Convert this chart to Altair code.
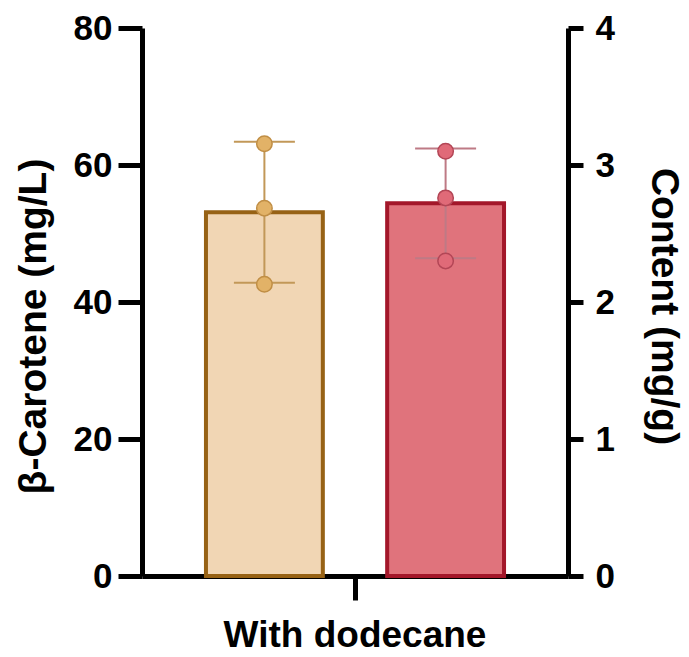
import altair as alt
import pandas as pd

category = "With dodecane"
groups = ["β-Carotene", "Content"]

carotene_points = [63.1, 53.7, 42.6]
carotene_mean = 53.1
carotene_sd = 10.3

content_points = [3.10, 2.76, 2.30]
content_mean = 2.72
content_sd = 0.40

left_ticks = [0, 20, 40, 60, 80]
right_ticks = [0, 1, 2, 3, 4]

FONT = "Liberation Sans"

x_enc = alt.X(
    "cat:N",
    scale=alt.Scale(paddingInner=0, paddingOuter=0),
    axis=alt.Axis(
        title=None, labelFontSize=37, labelFont=FONT, labelFontWeight="bold",
        labelAngle=0, labelBaseline="alphabetic", labelPadding=46, labelLimit=0,
        tickSize=24, tickWidth=5, domainWidth=5,
    ),
)
xoff = alt.XOffset("group:N", scale=alt.Scale(domain=groups, paddingInner=0.355, paddingOuter=0.353))

left_axis = alt.Axis(
    orient="left", values=left_ticks, grid=False, title="β-Carotene (mg/L)",
    titleFontSize=39, titleFont=FONT, titleFontWeight="bold",
    titleX=-97, titleY=298, titleBaseline="alphabetic", titleAngle=-90,
    labelFontSize=35, labelFont=FONT, labelFontWeight="bold", labelPadding=6,
    tickSize=24, tickWidth=5, domainWidth=5,
)
right_axis = alt.Axis(
    orient="right", values=right_ticks, grid=False, title="Content (mg/g)",
    titleFontSize=39, titleFont=FONT, titleFontWeight="bold",
    titleX=83, titleY=278, titleBaseline="alphabetic", titleAngle=90,
    labelFontSize=35, labelFont=FONT, labelFontWeight="bold", labelPadding=12,
    tickSize=15, tickWidth=5, domainWidth=5,
)
left_scale = alt.Scale(domain=[0, 80], nice=False)
right_scale = alt.Scale(domain=[0, 4], nice=False)


def side(points, mean, sd, group, scale, axis, bar_fill, bar_stroke, err_color, pt_fill, pt_stroke):
    summary = pd.DataFrame({"cat": [category], "group": [group], "mean": [mean],
                            "lo": [mean - sd], "hi": [mean + sd]})
    caps = pd.DataFrame({"cat": category, "group": group, "v": [mean - sd, mean + sd]})
    pts = pd.DataFrame({"cat": category, "group": group, "v": points})
    bar = alt.Chart(summary).mark_bar(fill=bar_fill, stroke=bar_stroke, strokeWidth=4).encode(
        x=x_enc, xOffset=xoff, y=alt.Y("mean:Q", scale=scale, axis=axis))
    rule = alt.Chart(summary).mark_rule(color=err_color, strokeWidth=2).encode(
        x=x_enc, xOffset=xoff, y=alt.Y("lo:Q", scale=scale, axis=axis), y2="hi:Q")
    tick = alt.Chart(caps).mark_tick(color=err_color, size=61, thickness=2, opacity=1).encode(
        x=x_enc, xOffset=xoff, y=alt.Y("v:Q", scale=scale, axis=axis))
    dots = alt.Chart(pts).mark_circle(size=240, fill=pt_fill, stroke=pt_stroke, strokeWidth=1.5, opacity=1).encode(
        x=x_enc, xOffset=xoff, y=alt.Y("v:Q", scale=scale, axis=axis))
    return alt.layer(bar, rule, tick, dots)


left = side(carotene_points, carotene_mean, carotene_sd, groups[0], left_scale, left_axis,
            "#F1D6B4", "#976215", "#C29858", "#E2B267", "#C08E45")
right = side(content_points, content_mean, content_sd, groups[1], right_scale, right_axis,
             "#E0737C", "#A3172A", "#BE7A85", "#E06A78", "#B34656")

chart = (
    alt.layer(left, right)
    .resolve_scale(y="independent")
    .properties(
        width=426, height=548,
        autosize=alt.AutoSizeParams(type="none"),
        padding={"left": 134, "top": 20, "right": 113, "bottom": 80},
    )
    .configure_view(stroke=None)
    .configure_axis(domainColor="black", tickColor="black", labelColor="black", titleColor="black")
)

chart.save("out.html", embed_options={"renderer": "svg", "actions": False})
